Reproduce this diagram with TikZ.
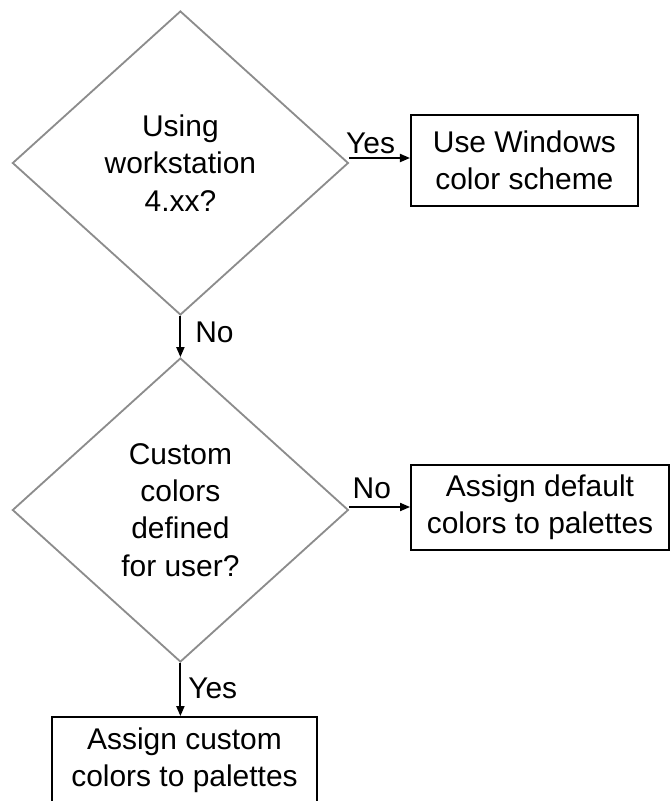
\documentclass[tikz,border=0pt]{standalone}
\usepackage{fontspec}
\setmainfont{Liberation Sans}
\usepackage{tikz}
\usetikzlibrary{shapes.geometric,arrows.meta}

\begin{document}
\begin{tikzpicture}[
    every node/.style={font=\fontsize{21.3}{26.5}\selectfont},
    decision/.style={shape=diamond, draw=gray!90, line width=1.3pt, align=center,
        inner sep=0pt, minimum width=8.4cm, minimum height=7.6cm},
    process/.style={draw=black, line width=1.3pt, align=center, inner sep=0pt},
    flow/.style={draw=black, line width=1.3pt, -{Triangle[length=2.5mm,width=2mm]}},
    answer/.style={inner sep=2pt}
]
            \useasboundingbox (0,0) rectangle (16.775,-20.025);

            \node[decision] (workstation) at (4.51, -4.075) {Using\\workstation\\4.xx?};
            \node[process, minimum width=5.675cm, minimum height=2.275cm] (scheme) at (13.11, -4.01) {Use Windows\\color scheme};
            \node[decision] (custom) at (4.51, -12.75) {Custom\\colors\\defined\\for user?};
            \node[process, minimum width=6.45cm, minimum height=2.125cm] (default) at (13.5, -12.6875) {Assign default\\colors to palettes};
            \node[process, minimum width=6.625cm, minimum height=2.15cm] (assign) at (4.6125, -19.0) {Assign custom\\colors to palettes};

            \draw[flow] ([yshift=1.25mm]workstation.east) -- ([yshift=1.25mm]workstation.east -| scheme.west)
                node[answer, above, pos=.35] {Yes};
            \draw[flow] (workstation.south) -- (custom.north)
                node[answer, right=8pt, pos=.4] {No};
            \draw[flow] ([yshift=.75mm]custom.east) -- ([yshift=.75mm]custom.east -| default.west)
                node[answer, above=3pt, pos=.37] {No};
            \draw[flow] (custom.south) -- (custom.south |- assign.north)
                node[answer, right=3pt, pos=.47] {Yes};
        \end{tikzpicture}
\end{document}
